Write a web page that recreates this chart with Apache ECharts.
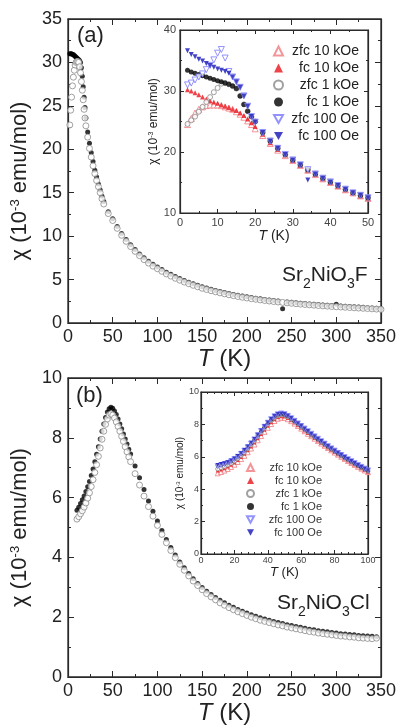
<!DOCTYPE html>
<html><head><meta charset="utf-8">
<script src="https://cdn.jsdelivr.net/npm/echarts/dist/echarts.min.js"></script>
<style>html,body{margin:0;padding:0;background:#fff}#c{width:399px;height:726px}</style>
</head><body><div id="c"></div>
<script>
const T_aMain = [2,3,4,5,6,7,8,9,10,11,12,13,14,15,16,17,18,19,20,22,24,26,28,30,32,34,36,38,40,45,50,55,60,65,70,75,80,85,90,95,100,105,110,115,120,125,130,135,140,145,150,155,160,165,170,175,180,185,190,195,200,205,210,215,220,225,230,235,240,245,250,255,260,265,270,275,280,285,290,295,300,305,310,315,320,325,330,335,340,345,350];
const fc_aMain = [31.0,31.0,31.0,30.9,30.9,30.8,30.7,30.6,30.5,30.4,30.3,30.2,30.0,29.4,28.4,27.2,26.0,24.8,23.6,
  22.0,20.7,19.6,18.6,17.6,16.8,16.0,15.3,14.6,14.0,
  12.8,12.0,11.1,10.3,9.6,9.0,8.45,7.95,7.5,7.1,6.75,6.45,6.15,5.85,5.6,5.35,5.12,4.9,4.7,4.52,
  4.34,4.17,4.02,3.88,3.75,3.62,3.5,3.39,3.29,3.19,3.1,3.01,2.93,2.85,2.78,2.71,2.65,2.59,2.53,1.65,
  2.43,2.38,2.33,2.28,2.24,2.2,2.16,2.12,2.08,2.05,2.01,2.15,1.95,1.92,1.89,1.86,1.83,1.8,1.77,1.74,1.71,1.68];
const zfc_aMain = [22.8,24.5,26.0,27.3,28.3,29.1,29.7,30.0,30.1,30.1,30.0,29.5,28.8,27.8,26.8,25.7,24.6,23.6,22.7,
  21.4,20.1,19.1,18.1,17.2,16.4,15.7,15.0,14.3,13.7,
  12.6,11.8,10.9,10.1,9.4,8.8,8.25,7.75,7.3,6.9,6.55,6.25,5.95,5.65,5.4,5.15,4.93,4.72,4.52,4.34,
  4.17,4.0,3.86,3.72,3.59,3.47,3.36,3.25,3.15,3.05,2.96,2.88,2.8,2.73,2.66,2.59,2.53,2.47,2.42,2.37,
  2.32,2.27,2.22,2.17,2.13,2.09,2.05,2.01,1.97,1.94,1.9,1.87,1.84,1.81,1.78,1.75,1.72,1.69,1.66,1.63,1.6,1.57];

const T_aInset = [2,3,4,5,6,7,8,9,10,11,12,13,14,15,16,17,18,19,20,22,24,26,28,30,32,34,36,38,40,42,44,46,48,50];
const zfc10k_a = [24.5,25.5,26.4,27.0,27.4,27.6,27.7,27.7,27.7,27.6,27.4,27.2,27.0,26.6,26.2,25.7,25.1,24.5,23.8,22.7,21.4,20.3,19.4,18.6,17.8,17.0,16.3,15.6,15.0,14.4,13.8,13.3,12.8,12.4];
const fc10k_a  = [30.2,30.0,29.7,29.4,29.0,28.7,28.4,28.2,28.0,27.7,27.5,27.3,27.0,26.8,26.4,26.0,25.4,24.8,24.2,22.9,21.5,20.4,19.5,18.6,17.8,17.0,16.3,15.6,15.0,14.4,13.8,13.3,12.8,12.4];
const zfc1k_a  = [24.6,25.2,25.8,26.6,27.4,28.2,29.0,29.8,30.5,31.2,31.3,31.1,30.8,30.4,29.2,27.8,26.7,25.8,25.0,23.2,21.8,20.6,19.6,18.7,17.9,17.1,16.4,15.7,15.1,14.5,13.9,13.3,12.9,12.5];
const fc1k_a   = [33.4,33.1,32.9,32.7,32.5,32.3,32.1,31.9,31.7,31.5,31.3,31.1,30.8,30.4,29.2,27.8,26.7,25.8,25.0,23.2,21.8,20.6,19.6,18.7,17.9,17.1,16.4,15.7,15.1,14.5,13.9,13.3,12.9,12.5];
const zfc100_a = [31.0,31.3,31.8,32.3,32.8,33.5,34.2,35.1,36.2,36.8,35.4,33.2,32.3,31.5,30.6,29.2,27.5,25.8,24.9,23.2,21.8,20.6,19.6,18.7,17.9,17.1,16.4,15.7,15.1,14.5,13.9,13.3,12.9,12.5];
const fc100_a  = [36.6,36.0,35.6,35.2,34.9,34.5,34.2,33.9,33.6,33.4,33.2,32.9,32.3,31.5,30.6,29.2,27.5,25.8,24.9,23.2,21.8,20.6,19.6,18.7,17.9,15.4,16.4,15.7,15.1,14.5,13.9,13.3,12.9,12.5];

const T_bMain = [10,12,14,16,18,20,22,24,26,28,30,32,34,36,38,40,42,44,46,48,50,52,54,56,58,60,62,64,66,68,70,75,80,85,90,95,100,105,110,115,120,125,130,135,140,145,150,155,160,165,170,175,180,185,190,195,200,205,210,215,220,225,230,235,240,245,250,255,260,265,270,275,280,285,290,295,300,305,310,315,320,325,330,335,340,345];
const fc_bMain = [5.58,5.68,5.8,5.93,6.05,6.2,6.36,6.54,6.74,6.96,7.2,7.45,7.7,7.96,8.22,8.46,8.68,8.86,8.97,9.02,8.99,8.9,8.78,8.63,8.46,8.3,8.13,7.96,7.79,7.62,7.46,
  7.06,6.66,6.27,5.89,5.54,5.22,4.9,4.6,4.33,4.08,3.85,3.65,3.46,3.29,3.13,2.99,2.87,2.76,2.66,2.57,
  2.48,2.4,2.33,2.26,2.2,2.14,2.08,2.03,1.98,1.94,1.9,1.86,1.82,1.79,1.75,1.72,1.69,1.66,1.63,1.6,
  1.58,1.55,1.53,1.51,1.49,1.47,1.45,1.44,1.42,1.41,1.39,1.38,1.37,1.36,1.35];
const zfc_bMain = [5.28,5.36,5.46,5.56,5.68,5.82,5.98,6.16,6.37,6.6,6.84,7.1,7.38,7.66,7.95,8.22,8.45,8.63,8.76,8.8,8.76,8.66,8.53,8.38,8.22,8.05,7.88,7.7,7.53,7.36,7.2,
  6.8,6.42,6.05,5.7,5.38,5.07,4.77,4.49,4.23,3.99,3.77,3.57,3.38,3.21,3.06,2.92,2.79,2.68,2.58,2.48,
  2.4,2.32,2.25,2.18,2.12,2.06,2.0,1.95,1.9,1.86,1.82,1.78,1.74,1.71,1.67,1.64,1.61,1.58,1.55,1.52,
  1.5,1.47,1.45,1.43,1.41,1.39,1.37,1.36,1.34,1.33,1.31,1.3,1.29,1.28,1.3];

const T_bInset = [10,12,14,16,18,20,22,24,26,28,30,32,34,36,38,40,42,44,46,48,50,52,54,56,58,60,62,64,66,68,70,72,74,76,78,80,82,84,86,88,90,92,94,96,98,100];
const zfc10k_b = [4.98,5.06,5.15,5.25,5.37,5.51,5.68,5.86,6.06,6.28,6.51,6.76,7.02,7.28,7.54,7.79,8.02,8.21,8.35,8.42,8.4,8.32,8.2,8.05,7.9,7.74,7.58,7.42,7.27,7.12,6.97,6.82,6.68,6.54,6.4,6.26,6.13,6.0,5.87,5.74,5.62,5.5,5.38,5.27,5.16,5.05];
const fc10k_b  = [5.15,5.22,5.3,5.4,5.51,5.65,5.81,5.99,6.19,6.41,6.64,6.89,7.15,7.41,7.67,7.92,8.14,8.32,8.45,8.51,8.48,8.39,8.26,8.11,7.95,7.79,7.63,7.47,7.31,7.16,7.01,6.86,6.71,6.57,6.43,6.29,6.16,6.03,5.9,5.77,5.65,5.53,5.41,5.3,5.19,5.08];
const zfc1k_b  = [5.25,5.32,5.4,5.49,5.6,5.74,5.9,6.08,6.28,6.5,6.73,6.98,7.24,7.5,7.76,8.01,8.23,8.41,8.54,8.59,8.56,8.46,8.32,8.17,8.01,7.85,7.69,7.53,7.37,7.21,7.06,6.91,6.76,6.62,6.48,6.34,6.2,6.07,5.94,5.81,5.69,5.57,5.45,5.34,5.23,5.12];
const fc1k_b   = [5.45,5.5,5.56,5.63,5.73,5.86,6.01,6.18,6.37,6.58,6.81,7.05,7.31,7.57,7.83,8.07,8.29,8.47,8.59,8.64,8.6,8.5,8.36,8.2,8.04,7.88,7.72,7.56,7.4,7.24,7.09,6.94,6.79,6.64,6.5,6.36,6.22,6.09,5.96,5.83,5.71,5.59,5.47,5.36,5.25,5.14];
const zfc100_b = [5.42,5.48,5.54,5.62,5.72,5.85,6.0,6.18,6.38,6.59,6.82,7.07,7.33,7.59,7.85,8.1,8.32,8.5,8.62,8.67,8.63,8.52,8.38,8.22,8.06,7.9,7.74,7.58,7.42,7.26,7.11,6.96,6.81,6.66,6.52,6.38,6.24,6.11,5.98,5.85,5.73,5.61,5.49,5.38,5.27,5.16];
const fc100_b  = [5.5,5.55,5.6,5.67,5.77,5.9,6.05,6.22,6.42,6.63,6.86,7.1,7.36,7.62,7.88,8.12,8.34,8.52,8.64,8.68,8.64,8.53,8.39,8.23,8.07,7.91,7.75,7.59,7.43,7.27,7.12,6.97,6.82,6.67,6.53,6.39,6.25,6.12,5.99,5.86,5.74,5.62,5.5,5.39,5.28,5.17];

const legendNames = ['zfc 10 kOe','fc 10 kOe','zfc 1 kOe','fc 1 kOe','zfc 100 Oe','fc 100 Oe'];

const FONT = '"Liberation Sans", Arial, sans-serif';
const AX = '#2a2a2a';
const DOWN = 'path://M0,0 L10,0 L5,9 Z';

function zip(t, v) { return t.map((x, i) => [x, v[i]]); }

function axisBase(grid, min, max, interval, minorSplit, tickLen) {
  return {
    gridIndex: grid, type: 'value', min: min, max: max, interval: interval,
    axisLine: {show: true, onZero: false, lineStyle: {color: AX, width: 1.2}},
    axisTick: {show: true, inside: true, length: tickLen, lineStyle: {color: AX, width: 1}},
    minorTick: {show: true, splitNumber: minorSplit, length: Math.round(tickLen * 0.55), lineStyle: {color: AX, width: 1}},
    splitLine: {show: false}, minorSplitLine: {show: false}
  };
}
function xPair(grid, min, max, interval, minorSplit, tickLen, lbl, name) {
  const a = axisBase(grid, min, max, interval, minorSplit, tickLen);
  const b = axisBase(grid, min, max, interval, minorSplit, tickLen);
  Object.assign(a, {position: 'bottom', axisLabel: {fontSize: lbl.size, color: lbl.color, margin: lbl.margin, fontFamily: FONT},
    name: '{i|T} (K)', nameLocation: 'middle', nameGap: name.gap,
    nameTextStyle: {fontSize: name.size, color: '#222', fontFamily: FONT, verticalAlign: 'top',
      rich: {i: {fontSize: name.size, fontStyle: 'italic', color: '#222', fontFamily: FONT}}}});
  Object.assign(b, {position: 'top', axisLabel: {show: false}});
  return [a, b];
}
function yPair(grid, min, max, interval, minorSplit, tickLen, lbl, name) {
  const a = axisBase(grid, min, max, interval, minorSplit, tickLen);
  const b = axisBase(grid, min, max, interval, minorSplit, tickLen);
  Object.assign(a, {position: 'left', axisLabel: {fontSize: lbl.size, color: lbl.color, margin: lbl.margin, fontFamily: FONT},
    name: '{n|χ (10}{p|-3}{n| emu/mol)}', nameLocation: 'middle', nameGap: name.gap, nameRotate: 90,
    nameTextStyle: {padding: name.pad || 0,
      rich: {n: {fontSize: name.size, color: '#222', fontFamily: FONT, verticalAlign: 'top'},
             p: {fontSize: Math.round(name.size * 0.6), color: '#222', fontFamily: FONT, verticalAlign: 'top'}}}});
  Object.assign(b, {position: 'right', axisLabel: {show: false}});
  return [a, b];
}

const xAxes = [].concat(
  xPair(0, 0, 350, 50, 2, 6, {size: 18, color: '#222', margin: 5}, {gap: 24, size: 24}),
  xPair(1, 0, 50, 10, 2, 4, {size: 11, color: '#444', margin: 4}, {gap: 13, size: 14}),
  xPair(2, 0, 350, 50, 2, 6, {size: 18, color: '#222', margin: 5}, {gap: 24, size: 24}),
  xPair(3, 0, 100, 20, 5, 4, {size: 9, color: '#444', margin: 2}, {gap: 10, size: 13})
);
const yAxes = [].concat(
  yPair(0, 0, 35, 5, 2, 6, {size: 18, color: '#222', margin: 6}, {gap: 32, size: 22, pad: [0, 20, 0, 0]}),
  yPair(1, 10, 40, 10, 2, 4, {size: 11, color: '#444', margin: 4}, {gap: 18, size: 12}),
  yPair(2, 0, 10, 2, 2, 6, {size: 18, color: '#222', margin: 6}, {gap: 32, size: 22}),
  yPair(3, 0, 10, 2, 2, 4, {size: 9, color: '#444', margin: 2}, {gap: 9, size: 10})
);

const styles = {
  'zfc 10 kOe': {symbol: 'triangle', item: {color: '#fff', borderColor: '#f07a80', borderWidth: 1}},
  'fc 10 kOe':  {symbol: 'triangle', item: {color: '#e8141c', borderColor: '#e8141c', borderWidth: 0}},
  'zfc 1 kOe':  {symbol: 'circle', item: {color: '#fff', borderColor: '#888', borderWidth: 1}},
  'fc 1 kOe':   {symbol: 'circle', item: {color: '#000', borderColor: '#000', borderWidth: 0}},
  'zfc 100 Oe': {symbol: DOWN, item: {color: '#fff', borderColor: '#7878ff', borderWidth: 1}},
  'fc 100 Oe':  {symbol: DOWN, item: {color: '#1414b8', borderColor: '#1414b8', borderWidth: 0}}
};
function insetSeries(name, xi, T, vals, size) {
  const s = styles[name];
  return {type: 'scatter', name: name, xAxisIndex: xi, yAxisIndex: xi, data: zip(T, vals),
    symbol: s.symbol, symbolSize: size, itemStyle: s.item, z: 3};
}

const series = [
  {type: 'scatter', name: 'F fc main', xAxisIndex: 0, yAxisIndex: 0, data: zip(T_aMain, fc_aMain),
    symbol: 'circle', symbolSize: 5, itemStyle: {color: '#000'}},
  {type: 'scatter', name: 'F zfc main', xAxisIndex: 0, yAxisIndex: 0, data: zip(T_aMain, zfc_aMain),
    symbol: 'circle', symbolSize: 6, itemStyle: {color: '#fff', borderColor: '#8a8a8a', borderWidth: 1}},
  insetSeries('zfc 10 kOe', 2, T_aInset, zfc10k_a, 6),
  insetSeries('fc 10 kOe', 2, T_aInset, fc10k_a, 5),
  insetSeries('zfc 1 kOe', 2, T_aInset, zfc1k_a, 5),
  insetSeries('fc 1 kOe', 2, T_aInset, fc1k_a, 5),
  insetSeries('zfc 100 Oe', 2, T_aInset, zfc100_a, 6),
  insetSeries('fc 100 Oe', 2, T_aInset, fc100_a, 5),
  {type: 'scatter', name: 'Cl fc main', xAxisIndex: 4, yAxisIndex: 4, data: zip(T_bMain, fc_bMain),
    symbol: 'circle', symbolSize: 5, itemStyle: {color: '#000'}},
  {type: 'scatter', name: 'Cl zfc main', xAxisIndex: 4, yAxisIndex: 4, data: zip(T_bMain, zfc_bMain),
    symbol: 'circle', symbolSize: 6, itemStyle: {color: '#fff', borderColor: '#8a8a8a', borderWidth: 1}},
  insetSeries('zfc 10 kOe', 6, T_bInset, zfc10k_b, 5),
  insetSeries('fc 10 kOe', 6, T_bInset, fc10k_b, 4),
  insetSeries('zfc 1 kOe', 6, T_bInset, zfc1k_b, 4),
  insetSeries('fc 1 kOe', 6, T_bInset, fc1k_b, 4),
  insetSeries('zfc 100 Oe', 6, T_bInset, zfc100_b, 5),
  insetSeries('fc 100 Oe', 6, T_bInset, fc100_b, 4)
];

function formulaRich(size) {
  return {
    a: {fontSize: size, fontWeight: 'normal', color: '#222', fontFamily: FONT, verticalAlign: 'top'},
    s: {fontSize: Math.round(size * 0.65), fontWeight: 'normal', color: '#222', fontFamily: FONT, verticalAlign: 'top', padding: [Math.round(size * 0.55), 0, 0, 0]}
  };
}

const option = {
  animation: false,
  backgroundColor: '#fff',
  textStyle: {fontFamily: FONT},
  grid: [
    {left: 68, top: 19, width: 314, height: 304, show: true, backgroundColor: 'transparent', borderColor: AX, borderWidth: 1.3},
    {left: 180, top: 30, width: 188, height: 183, show: true, backgroundColor: '#fff', borderColor: AX, borderWidth: 1.2},
    {left: 68, top: 378, width: 314, height: 305, show: true, backgroundColor: 'transparent', borderColor: AX, borderWidth: 1.3},
    {left: 201, top: 392, width: 167, height: 162, show: true, backgroundColor: '#fff', borderColor: AX, borderWidth: 1.2}
  ],
  xAxis: xAxes,
  yAxis: yAxes,
  title: [
    {text: '(a)', left: 77, top: 25, padding: 0, textStyle: {fontSize: 22, fontWeight: 'normal', color: '#222', fontFamily: FONT}},
    {text: '(b)', left: 76, top: 385, padding: 0, textStyle: {fontSize: 22, fontWeight: 'normal', color: '#222', fontFamily: FONT}},
    {text: '{a|Sr}{s|2}{a|NiO}{s|3}{a|F}', left: 282, top: 265, padding: 0, textStyle: {fontWeight: 'normal', rich: formulaRich(21)}},
    {text: '{a|Sr}{s|2}{a|NiO}{s|3}{a|Cl}', left: 277, top: 593, padding: 0, textStyle: {fontWeight: 'normal', rich: formulaRich(21)}}
  ],
  legend: [
    {data: legendNames, orient: 'vertical', left: 273, top: 44, padding: 0, itemWidth: 9, itemHeight: 9, itemGap: 3,
      selectedMode: false, formatter: n => '{r|' + n + '}',
      textStyle: {color: '#222', rich: {r: {width: 71, align: 'right', fontSize: 14, color: '#222', fontFamily: FONT}}}},
    {data: legendNames, orient: 'vertical', left: 246, top: 462, padding: 0, itemWidth: 7, itemHeight: 7, itemGap: 2,
      selectedMode: false, formatter: n => '{r|' + n + '}',
      textStyle: {color: '#333', rich: {r: {width: 63, align: 'right', fontSize: 11, color: '#333', fontFamily: FONT}}}}
  ],
  series: series
};

const chart = echarts.init(document.getElementById('c'), null, {renderer: 'canvas'});
chart.setOption(option);
</script></body></html>
